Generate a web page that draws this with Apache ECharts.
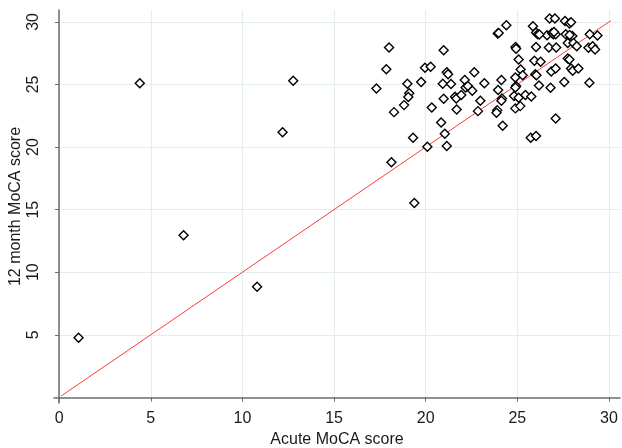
<!DOCTYPE html>
<html>
<head>
<meta charset="utf-8">
<script src="https://cdn.jsdelivr.net/npm/echarts@6/dist/echarts.min.js"></script>
<style>html,body{margin:0;padding:0;background:#fff}#c{width:622px;height:448px}</style>
</head>
<body>
<div id="c"></div>
<script>
var acuteScores = [1.06, 4.4, 6.79, 10.8, 12.19, 12.77,
  18.0, 17.85, 17.31, 18.27, 19.0, 19.1, 19.05, 18.82, 19.75, 19.31, 18.13, 19.38,
  19.96, 20.27, 20.09, 20.33, 20.98, 21.15, 21.22, 20.93, 21.38, 20.98, 20.84, 21.04, 21.15,
  21.6, 21.67, 21.69, 21.94, 22.13, 22.18, 22.3, 22.54, 22.65, 22.85, 22.98, 23.2,
  23.93, 23.98, 24.4, 24.13, 23.95, 24.16, 24.13, 23.9, 23.86, 24.2,
  24.9, 24.93, 25.07, 25.18, 25.29, 24.89, 24.93, 24.89, 24.82, 25.07, 24.89, 25.16,
  25.44, 25.76, 25.73, 26.02, 25.85, 26.02, 26.11, 26.02, 25.93, 26.27, 25.98, 26.04,
  26.18, 26.81, 26.85, 27.09, 27.56, 27.09, 26.76, 27.05, 26.62, 26.89, 26.96, 27.09,
  26.72, 27.12, 27.6, 27.84, 27.93, 27.64, 28.0, 27.75, 28.06, 28.24, 27.75, 27.84,
  27.93, 28.02, 28.33, 28.93, 28.95, 29.37, 28.88, 29.11, 29.24, 27.85, 26.2, 27.0];
var monthScores = [4.76, 25.1, 12.96, 8.83, 21.18, 25.3,
  27.95, 26.22, 24.68, 22.79, 25.05, 24.3, 24.0, 23.35, 25.2, 20.74, 18.78, 15.53,
  26.33, 26.41, 20.03, 23.16, 27.74, 25.98, 25.82, 25.05, 25.03, 23.86, 21.97, 21.06, 20.08,
  24.02, 23.88, 23.0, 24.15, 25.35, 24.76, 24.87, 24.5, 25.98, 22.87, 23.7, 25.1,
  29.07, 29.12, 29.73, 25.35, 24.55, 23.88, 23.7, 22.95, 22.74, 21.7,
  28.0, 27.85, 27.0, 26.2, 25.74, 25.56, 24.87, 24.76, 24.07, 23.94, 23.09, 23.27,
  24.15, 24.04, 20.74, 20.88, 29.65, 29.15, 29.02, 28.0, 26.89, 26.81, 25.82, 25.74,
  24.92, 24.73, 26.04, 26.28, 25.19, 22.29, 30.27, 30.27, 28.94, 29.12, 29.02, 29.02,
  27.95, 27.95, 30.08, 29.87, 29.97, 29.02, 28.88, 28.32, 28.32, 28.06, 27.07, 26.99,
  26.28, 26.09, 26.28, 25.13, 29.02, 28.91, 27.93, 28.06, 27.79, 28.95, 29.0, 29.2];
var tickValues = [0, 5, 10, 15, 20, 25, 30];
var yTickValues = [5, 10, 15, 20, 25, 30];
var fitLine = [[0.1, 0.1], [30.1, 30.1]];

var points = acuteScores.map(function (x, i) { return [x, monthScores[i]]; });
var txt = '#1a1a1a';
var font = 'Liberation Sans, Arial, sans-serif';
var chart = echarts.init(document.getElementById('c'));
chart.setOption({
  animation: false,
  backgroundColor: '#fff',
  grid: { left: 54, right: 2, top: 10, bottom: 45, containLabel: false, outerBoundsMode: 'none' },
  xAxis: {
    type: 'value', min: -0.28, max: 30.6,
    name: 'Acute MoCA score', nameLocation: 'middle', nameGap: 26,
    nameTextStyle: { color: txt, fontSize: 16, fontFamily: font },
    axisLine: { show: true, lineStyle: { color: '#6b6b6b', width: 1.5 } },
    axisTick: { show: true, length: 4, lineStyle: { color: '#6b6b6b' }, customValues: tickValues },
    axisLabel: { color: txt, fontSize: 16, fontFamily: font, margin: 8, customValues: tickValues },
    splitLine: { show: true, lineStyle: { color: '#e4edef', width: 1.2 } }
  },
  yAxis: {
    type: 'value', min: -0.45, max: 30.95,
    name: '12 month MoCA score', nameLocation: 'middle', nameGap: 30, nameRotate: 90,
    nameMoveOverlap: false,
    nameTextStyle: { color: txt, fontSize: 16, fontFamily: font },
    axisLine: { show: true, lineStyle: { color: '#6b6b6b', width: 1.5 } },
    axisTick: { show: true, length: 4, lineStyle: { color: '#6b6b6b' }, customValues: yTickValues },
    axisLabel: { color: txt, fontSize: 16, fontFamily: font, rotate: 90, margin: 12, customValues: yTickValues },
    splitLine: { show: true, lineStyle: { color: '#e4edef', width: 1.2 } }
  },
  series: [
    {
      type: 'line', data: fitLine, symbol: 'none', silent: true,
      lineStyle: { color: '#ff3b3b', width: 1 }, z: 1
    },
    {
      type: 'scatter', data: points, symbol: 'diamond', symbolSize: 9,
      itemStyle: { color: '#ffffff', opacity: 1, borderColor: '#000000', borderWidth: 1.4 },
      z: 2
    }
  ]
});
</script>
</body>
</html>
